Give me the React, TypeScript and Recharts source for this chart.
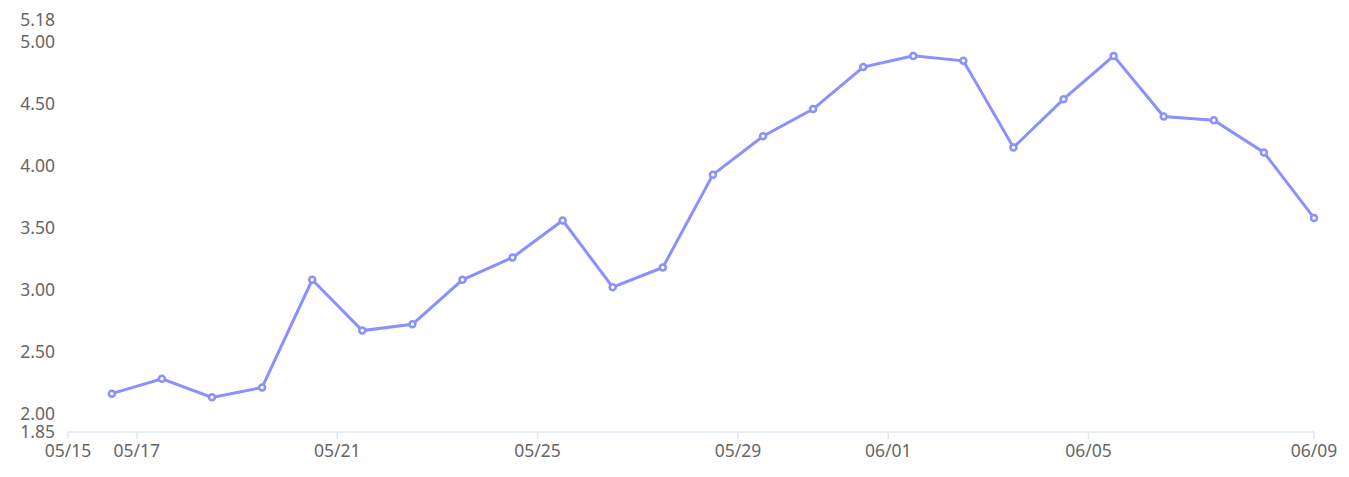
import React from 'react';
import { LineChart, Line, XAxis, YAxis } from 'recharts';

// one reading per day, taken at noon
const dates = [
  '2024-05-16T12:00:00Z', '2024-05-17T12:00:00Z', '2024-05-18T12:00:00Z', '2024-05-19T12:00:00Z',
  '2024-05-20T12:00:00Z', '2024-05-21T12:00:00Z', '2024-05-22T12:00:00Z', '2024-05-23T12:00:00Z',
  '2024-05-24T12:00:00Z', '2024-05-25T12:00:00Z', '2024-05-26T12:00:00Z', '2024-05-27T12:00:00Z',
  '2024-05-28T12:00:00Z', '2024-05-29T12:00:00Z', '2024-05-30T12:00:00Z', '2024-05-31T12:00:00Z',
  '2024-06-01T12:00:00Z', '2024-06-02T12:00:00Z', '2024-06-03T12:00:00Z', '2024-06-04T12:00:00Z',
  '2024-06-05T12:00:00Z', '2024-06-06T12:00:00Z', '2024-06-07T12:00:00Z', '2024-06-08T12:00:00Z',
  '2024-06-09T12:00:00Z',
];
const values = [
  2.16, 2.28, 2.13, 2.21, 3.08, 2.67, 2.72, 3.08, 3.26, 3.56, 3.02, 3.18, 3.93,
  4.24, 4.46, 4.8, 4.89, 4.85, 4.15, 4.54, 4.89, 4.4, 4.37, 4.11, 3.58,
];
const axisStart = '2024-05-15T15:00:00Z';
const dateTicks = ['2024-05-17T00:00:00Z', '2024-05-21T00:00:00Z', '2024-05-25T00:00:00Z',
  '2024-05-29T00:00:00Z', '2024-06-01T00:00:00Z', '2024-06-05T00:00:00Z'];
const yTicks = [1.85, 2, 2.5, 3, 3.5, 4, 4.5, 5, 5.18];

const COLOR = '#8a90ff';
const FONT = '"Noto Sans", sans-serif';

const data = dates.map((d, i) => ({ t: Date.parse(d), value: values[i] }));
const xMin = Date.parse(axisStart);
const xMax = data[data.length - 1].t;
const xTicks = [xMin, ...dateTicks.map((d) => Date.parse(d)), xMax];

const pad = (n: number) => String(n).padStart(2, '0');
const fmtDate = (t: number) => {
  const d = new Date(t);
  return `${pad(d.getUTCMonth() + 1)}/${pad(d.getUTCDate())}`;
};

const tickStyle = { fill: '#666', fontSize: 17.5, fontFamily: FONT };

export default function App() {
  return (
    <LineChart
      width={1333}
      height={464}
      data={data}
      margin={{ top: 12, right: 27, left: 0, bottom: 0 }}
    >
      <XAxis
        dataKey="t"
        type="number"
        domain={[xMin, xMax]}
        ticks={xTicks}
        interval={0}
        tickFormatter={fmtDate}
        height={40}
        tick={tickStyle}
        axisLine={{ stroke: '#e0e6f1', strokeWidth: 1.5 }}
        tickLine={{ stroke: '#e0e6f1', strokeWidth: 1.5 }}
        tickSize={7}
        tickMargin={6}
      />
      <YAxis
        type="number"
        domain={[1.85, 5.18]}
        ticks={yTicks}
        interval={0}
        tickFormatter={(v: number) => v.toFixed(2)}
        width={60}
        tick={tickStyle}
        axisLine={false}
        tickLine={false}
        tickSize={0}
        tickMargin={13}
      />
      <Line
        type="linear"
        dataKey="value"
        stroke={COLOR}
        strokeWidth={3}
        dot={{ r: 3, fill: '#fff', stroke: COLOR, strokeWidth: 2.5 }}
        activeDot={false}
        isAnimationActive={false}
      />
    </LineChart>
  );
}
